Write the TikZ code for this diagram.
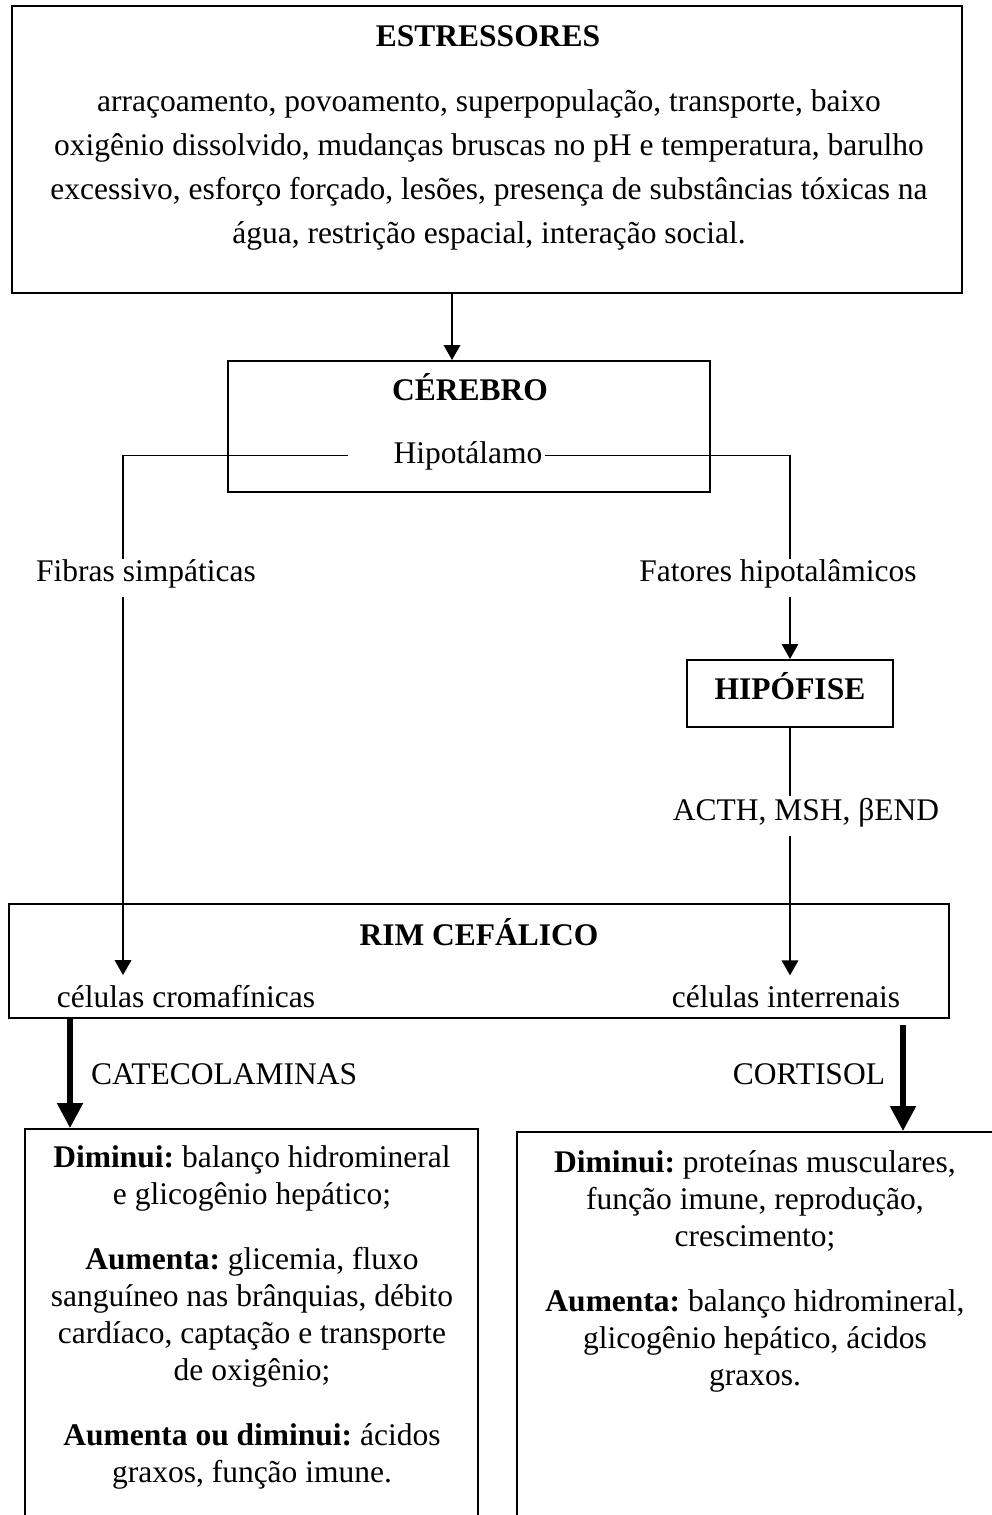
\documentclass[tikz,border=0pt]{standalone}
\usepackage{fontspec}
\setmainfont{Liberation Serif}
\usetikzlibrary{arrows.meta}
\newcommand{\fonte}{\frenchspacing\fontsize{12.6pt}{14.8pt}\selectfont}

\begin{document}
\begin{tikzpicture}[x=0.4pt,y=-0.4pt,font=\fonte,
  caixa/.style={draw,line width=0.8pt,inner sep=0pt},
  rotulo/.style={inner xsep=1pt,inner ysep=3.7pt},
  texto/.style={align=center,anchor=base,inner sep=0pt},
  linha/.style={line width=0.7pt},
  seta/.style={line width=0.7pt,-{Triangle[length=6pt,width=6.6pt]}},
  setagrossa/.style={line width=2.1pt,-{Triangle[length=10pt,width=10pt]}}]
\useasboundingbox (0,0) rectangle (992,1515);
\clip (0,0) rectangle (992,1515);
% x of the vertical connectors
\coordinate (xa) at (452,0);
\coordinate (xl) at (123,0);
\coordinate (xr) at (790,0);
\coordinate (xcat) at (70,0);
\coordinate (xcor) at (903,0);
% boxes
\node[caixa,minimum width=380pt,minimum height=114.8pt] (estr) at (487,149.5) {};
\node[caixa,minimum width=192.8pt,minimum height=52.4pt] (cer) at (469,426.5) {};
\node[caixa,minimum width=82.4pt,minimum height=26.8pt] (hipof) at (790,693.5) {};
\node[caixa,minimum width=376pt,minimum height=45.6pt] (rim) at (479,961) {};
\node[caixa,minimum width=181.2pt,minimum height=172.4pt] (cat) at (251.5,1344.5) {};
\node[caixa,minimum width=209.2pt,minimum height=171.2pt] (cor) at (778.5,1346) {};
% texts (multi-line ones sit on their last baseline)
\node[texto] (estrtit) at (488,46) {\textbf{ESTRESSORES}};
\node[texto,font=\frenchspacing\fontsize{12.6pt}{17.5pt}\selectfont] (estrtxt) at (489,243)
  {arraçoamento, povoamento, superpopulação, transporte, baixo\\
   oxigênio dissolvido, mudanças bruscas no pH e temperatura, barulho\\
   excessivo, esforço forçado, lesões, presença de substâncias tóxicas na\\
   água, restrição espacial, interação social.};
\node[texto] (certit) at (470,400) {\textbf{CÉREBRO}};
\node[rotulo,anchor=base] (hipot) at (468,463) {Hipotálamo};
\node[rotulo,anchor=base] (fib) at (146,581) {Fibras simpáticas};
\node[rotulo,anchor=base] (fat) at (778,581) {Fatores hipotalâmicos};
\node[texto] (hipoftit) at (790,699) {\textbf{HIPÓFISE}};
\node[rotulo,anchor=base] (acth) at (806,820) {ACTH, MSH, βEND};
\node[texto] (rimtit) at (479,945) {\textbf{RIM CEFÁLICO}};
\node[rotulo,anchor=base] (crom) at (186,1007) {células cromafínicas};
\node[rotulo,anchor=base] (inter) at (786,1007) {células interrenais};
\node[rotulo,anchor=base west] (catl) at (88,1084) {CATECOLAMINAS};
\node[rotulo,anchor=base east] (cortl) at (888,1084) {CORTISOL};
\node[texto] (cattxt) at (252,1482)
  {\textbf{Diminui:} balanço hidromineral\\
   e glicogênio hepático;\\[11.2pt]
   \textbf{Aumenta:} glicemia, fluxo\\
   sanguíneo nas brânquias, débito\\
   cardíaco, captação e transporte\\
   de oxigênio;\\[11.2pt]
   \textbf{Aumenta ou diminui:} ácidos\\
   graxos, função imune.};
\node[texto] (cortxt) at (755,1385)
  {\textbf{Diminui:} proteínas musculares,\\
   função imune, reprodução,\\
   crescimento;\\[11.2pt]
   \textbf{Aumenta:} balanço hidromineral,\\
   glicogênio hepático, ácidos\\
   graxos.};
% connectors
\draw[seta] (estr.south -| xa) -- (cer.north -| xa);
\draw[linha,shorten >=-4pt] ([xshift=-17pt]hipot.west) -| (fib.north -| xl);
\draw[linha,shorten >=-4pt] (hipot.east) -| (fat.north -| xr);
\draw[seta] (fib.south -| xl) -- (crom.north -| xl);
\draw[seta] (fat.south -| xr) -- (hipof.north -| xr);
\draw[linha,shorten >=-3pt] (hipof.south -| xr) -- (acth.north -| xr);
\draw[seta] (acth.south -| xr) -- (inter.north -| xr);
\draw[setagrossa] (rim.south -| xcat) -- (cat.north -| xcat);
\draw[setagrossa,shorten <=2.4pt] (rim.south -| xcor) -- (cor.north -| xcor);
\end{tikzpicture}
\end{document}
